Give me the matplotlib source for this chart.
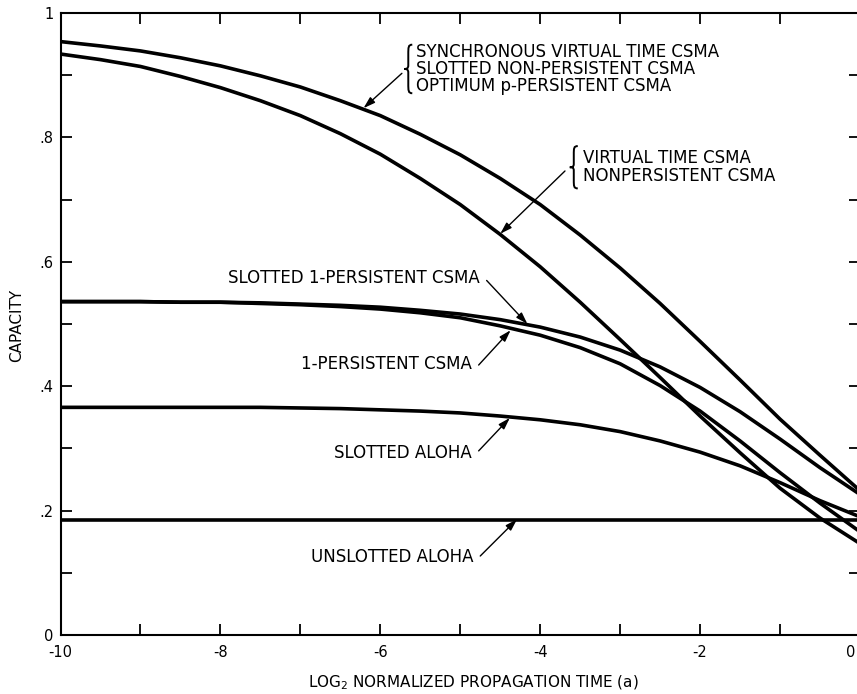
import matplotlib.pyplot as plt
from matplotlib.path import Path
from matplotlib.patches import PathPatch
from matplotlib.ticker import MultipleLocator

# log2 of the normalized propagation time a
log_a = [-10, -9.5, -9, -8.5, -8, -7.5, -7, -6.5, -6, -5.5, -5,
         -4.5, -4, -3.5, -3, -2.5, -2, -1.5, -1, -0.5, 0]

# capacity curves
sync_virtual_time = [0.954, 0.947, 0.939, 0.928, 0.915, 0.899, 0.881, 0.859, 0.835, 0.805, 0.772,
                     0.734, 0.692, 0.643, 0.590, 0.533, 0.472, 0.410, 0.347, 0.289, 0.232]
nonpersistent = [0.934, 0.925, 0.914, 0.898, 0.880, 0.859, 0.835, 0.806, 0.773, 0.734, 0.692,
                 0.644, 0.592, 0.535, 0.475, 0.414, 0.352, 0.293, 0.236, 0.188, 0.147]
slotted_1_persistent = [0.536, 0.536, 0.536, 0.535, 0.535, 0.534, 0.532, 0.530, 0.527, 0.522, 0.516,
                        0.507, 0.495, 0.479, 0.458, 0.431, 0.398, 0.359, 0.315, 0.269, 0.226]
one_persistent = [0.536, 0.536, 0.536, 0.535, 0.535, 0.533, 0.531, 0.528, 0.524, 0.518, 0.510,
                  0.497, 0.482, 0.462, 0.436, 0.401, 0.360, 0.312, 0.261, 0.212, 0.166]
slotted_aloha = [0.366, 0.366, 0.366, 0.366, 0.366, 0.366, 0.365, 0.364, 0.362, 0.360, 0.357,
                 0.352, 0.346, 0.338, 0.327, 0.312, 0.294, 0.272, 0.245, 0.216, 0.190]
unslotted_x = [-10, 0]
unslotted_aloha = [0.185, 0.185]

x_ticks = [-10, -8, -6, -4, -2, 0]
x_tick_labels = ['-10', '-8', '-6', '-4', '-2', '']  # the "0" sits on the cut edge, drawn separately
y_ticks = [0, 0.2, 0.4, 0.6, 0.8, 1.0]
y_tick_labels = ['0', '.2', '.4', '.6', '.8', '1']

group1 = ['SYNCHRONOUS VIRTUAL TIME CSMA',
          'SLOTTED NON-PERSISTENT CSMA',
          'OPTIMUM p-PERSISTENT CSMA']
group2 = ['VIRTUAL TIME CSMA', 'NONPERSISTENT CSMA']

plt.rcParams['font.family'] = ['DejaVu Sans']

fig = plt.figure(figsize=(8.57, 6.94), dpi=100)
ax = fig.add_axes([0.0706, 0.085, 0.9329, 0.8963])

for curve in [sync_virtual_time, nonpersistent, slotted_1_persistent, one_persistent, slotted_aloha]:
    ax.plot(log_a, curve, color='black', lw=2.6, solid_capstyle='butt')
ax.plot(unslotted_x, unslotted_aloha, color='black', lw=2.6, solid_capstyle='butt')

ax.set_xlim(-10, 0)
ax.set_ylim(0, 1)
ax.set_xticks(x_ticks)
ax.set_xticklabels(x_tick_labels)
ax.set_yticks(y_ticks)
ax.set_yticklabels(y_tick_labels)
ax.xaxis.set_minor_locator(MultipleLocator(1))
ax.yaxis.set_minor_locator(MultipleLocator(0.1))
ax.tick_params(which='both', direction='in', length=8, width=1.3, top=True, right=True)
ax.tick_params(axis='x', pad=7, labelsize=10.5)
ax.tick_params(axis='y', pad=5, labelsize=10.5)
for s in ax.spines.values():
    s.set_linewidth(1.5)

ax.annotate('0', xy=(0, 0), xytext=(-3, -7), textcoords='offset points',
            ha='right', va='top', fontsize=10.5, annotation_clip=False)

fig.text(17 / 857, 1 - 325 / 694, 'CAPACITY', rotation=90, ha='center', va='center', fontsize=11)
fig.text(473 / 857, 1 - 683 / 694, r'LOG$_2$ NORMALIZED PROPAGATION TIME (a)',
         ha='center', va='center', fontsize=11)


def brace(x_right, x_tip, yc, h):
    # curly brace "{" drawn as a path in data units
    xm = (x_right + x_tip) / 2
    verts = [(x_right, yc + h),
             (xm, yc + h), (xm, yc + 0.9 * h), (xm, yc + 0.6 * h),
             (xm, yc + 0.15 * h),
             (xm, yc + 0.02 * h), (x_tip + 0.3 * (x_right - x_tip), yc), (x_tip, yc),
             (x_tip + 0.3 * (x_right - x_tip), yc), (xm, yc - 0.02 * h), (xm, yc - 0.15 * h),
             (xm, yc - 0.6 * h),
             (xm, yc - 0.9 * h), (xm, yc - h), (x_right, yc - h)]
    codes = [Path.MOVETO,
             Path.CURVE4, Path.CURVE4, Path.CURVE4,
             Path.LINETO,
             Path.CURVE4, Path.CURVE4, Path.CURVE4,
             Path.CURVE4, Path.CURVE4, Path.CURVE4,
             Path.LINETO,
             Path.CURVE4, Path.CURVE4, Path.CURVE4]
    ax.add_patch(PathPatch(Path(verts, codes), fill=False, lw=1.4, color='black'))


def arrow(tail, tip):
    ax.annotate('', xy=tip, xytext=tail,
                arrowprops=dict(arrowstyle='-|>,head_length=0.7,head_width=0.22',
                                color='black', lw=1.0, shrinkA=0, shrinkB=0))


label_size = 12

# group 1 label
for txt, yy in zip(group1, [0.937, 0.910, 0.883]):
    ax.text(-5.55, yy, txt, ha='left', va='center', fontsize=label_size)
brace(-5.6, -5.7, 0.910, 0.039)
arrow((-5.73, 0.903), (-6.21, 0.847))

# group 2 label
for txt, yy in zip(group2, [0.767, 0.738]):
    ax.text(-3.46, yy, txt, ha='left', va='center', fontsize=label_size)
brace(-3.53, -3.63, 0.752, 0.034)
arrow((-3.69, 0.746), (-4.5, 0.645))

ax.text(-7.91, 0.574, 'SLOTTED 1-PERSISTENT CSMA', ha='left', va='center', fontsize=label_size)
arrow((-4.67, 0.570), (-4.16, 0.500))

ax.text(-4.85, 0.436, '1-PERSISTENT CSMA', ha='right', va='center', fontsize=label_size)
arrow((-4.77, 0.434), (-4.37, 0.490))

ax.text(-4.85, 0.293, 'SLOTTED ALOHA', ha='right', va='center', fontsize=label_size)
arrow((-4.77, 0.296), (-4.38, 0.349))

ax.text(-4.84, 0.125, 'UNSLOTTED ALOHA', ha='right', va='center', fontsize=label_size)
arrow((-4.75, 0.127), (-4.29, 0.186))

fig.savefig('out.png', dpi=100)
